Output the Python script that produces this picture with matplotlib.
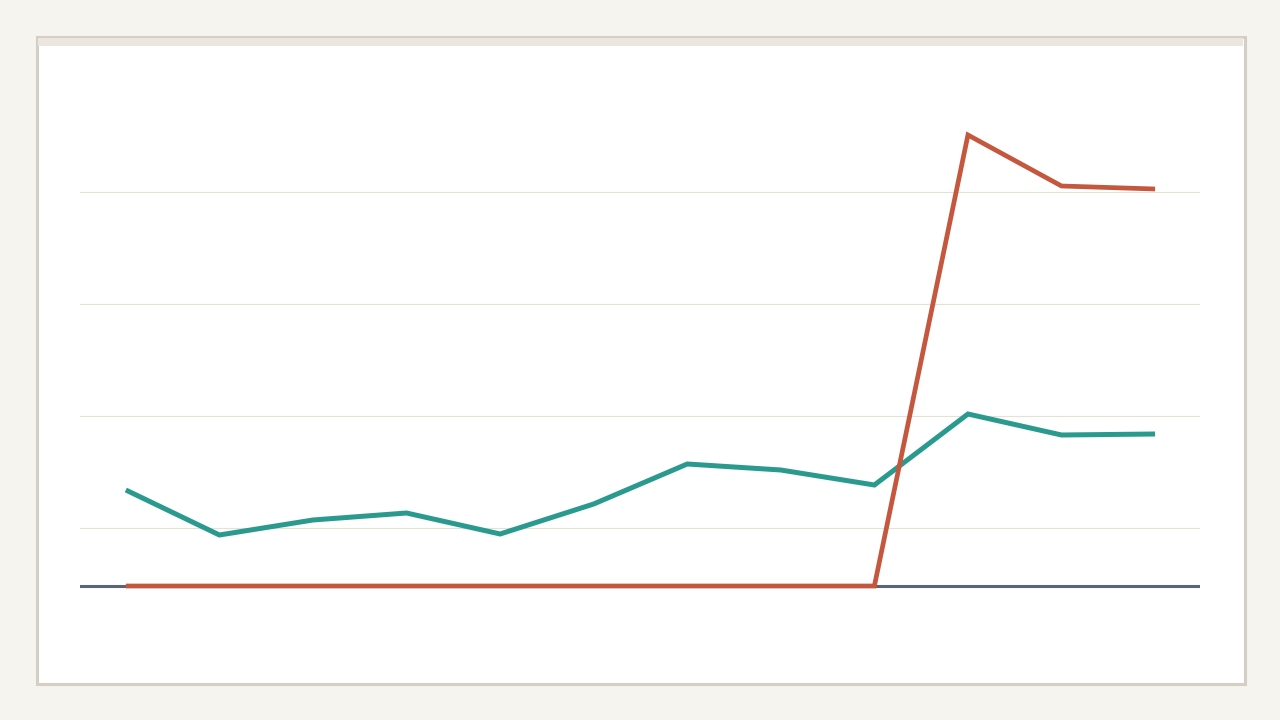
import matplotlib
matplotlib.use('Agg')
import matplotlib.pyplot as plt
from matplotlib.patches import Rectangle

# data (units: index, baseline = 0)
periods = list(range(12))
teal_values = [96, 51, 66, 73, 52, 82, 122, 116, 101, 172, 151, 152]
red_values = [0, 0, 0, 0, 0, 0, 0, 0, 0, 451, 400, 397]
grid_levels = [58, 170, 282, 394]

W, H = 1280, 720


def px_rect(x0, y0, x1, y1, **kw):
    # rectangle given in pixel coords (origin top-left)
    return Rectangle((x0 / W, 1 - y1 / H), (x1 - x0) / W, (y1 - y0) / H,
                     transform=fig.transFigure, **kw)


fig = plt.figure(figsize=(12.8, 7.2), dpi=100, facecolor='#f5f4ef')

# card behind the chart
fig.add_artist(px_rect(36.5, 36.5, 1244.5, 684.2, facecolor='white',
                       edgecolor='#d3cfc4', linewidth=2.2, zorder=0))
fig.add_artist(px_rect(38, 38, 1243, 46, facecolor='#ebe7de',
                       edgecolor='none', zorder=0.5))

ax = fig.add_axes([80 / W, 1 - 640 / H, 1120 / W, 540 / H])
ax.set_facecolor('none')
ax.set_xlim(-0.49, 11.48)
ax.set_ylim(-54, 486)

for g in grid_levels:
    ax.axhline(g, color='#e4e2d6', linewidth=0.8, zorder=1)
ax.axhline(0, color='#5a6473', linewidth=2.2, zorder=2)

ax.plot(periods, teal_values, color='#2a9a8f', linewidth=3.6,
        solid_capstyle='butt', solid_joinstyle='miter', zorder=3)
ax.plot(periods, red_values, color='#c4573e', linewidth=3.4,
        solid_capstyle='butt', solid_joinstyle='miter', zorder=4)

ax.set_xticks([])
ax.set_yticks([])
for s in ax.spines.values():
    s.set_visible(False)

fig.savefig('out.png', dpi=100, facecolor=fig.get_facecolor())
